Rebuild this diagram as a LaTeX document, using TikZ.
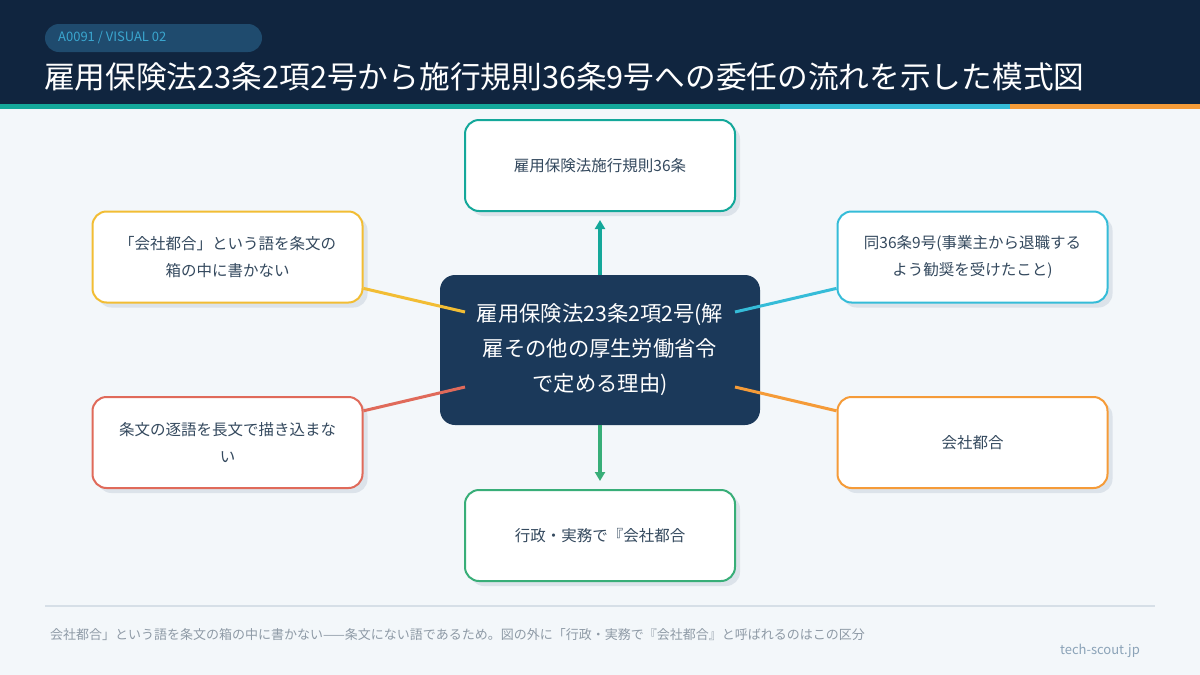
\documentclass[tikz,border=0pt]{standalone}
\usepackage{fontspec}
\setmainfont{Noto Sans CJK JP}
\usetikzlibrary{arrows.meta,shadows}
\definecolor{hdr}{HTML}{10253F}
\definecolor{bgc}{HTML}{F3F7FA}
\definecolor{pillc}{HTML}{1F4B6E}
\definecolor{pilltxt}{HTML}{3AA6CF}
\definecolor{tealc}{HTML}{14A89A}
\definecolor{cyanc}{HTML}{35BCD8}
\definecolor{orangec}{HTML}{F59B38}
\definecolor{yellowc}{HTML}{F2BD34}
\definecolor{redc}{HTML}{E06A5A}
\definecolor{greenc}{HTML}{38AE78}
\definecolor{ctrc}{HTML}{1B395A}
\definecolor{txtc}{HTML}{34495E}
\definecolor{shadc}{HTML}{DCE3EA}
\definecolor{foottxt}{HTML}{8E9AA6}
\definecolor{sepc}{HTML}{D6DFE7}
\definecolor{techc}{HTML}{8BA3B8}
\begin{document}
\begin{tikzpicture}[x=1pt,y=-1pt,
  card/.style={draw=#1, line width=2pt, fill=white, rounded corners=14pt,
    minimum width=270pt, minimum height=91pt, align=center, text=txtc,
    font=\fontsize{15.5}{27}\selectfont,
    drop shadow={shadow xshift=5pt, shadow yshift=-5pt, fill=shadc, opacity=1}},
  ctrbox/.style={fill=ctrc, rounded corners=15pt, minimum width=320pt,
    minimum height=150pt, align=center, text=white,
    font=\fontsize{21.3}{35}\selectfont},
  link/.style={draw=#1, line width=3pt},
  arr/.style={draw=#1, line width=3.5pt, -{Triangle[length=9pt,width=10pt]}}
]
\useasboundingbox (0,0) rectangle (1200,675);
\fill[bgc] (0,0) rectangle (1200,675);
% header
\fill[hdr] (0,0) rectangle (1200,104);
\fill[tealc] (0,104) rectangle (780,109);
\fill[cyanc] (780,104) rectangle (1010,109);
\fill[orangec] (1010,104) rectangle (1200,109);
\fill[pillc, rounded corners=14pt] (45,24) rectangle (262,52);
\node[anchor=west, inner sep=0pt, text=pilltxt, font=\fontsize{13}{13}\selectfont] (pilltext) at (58,38) {A0091 / VISUAL 02};
\node[anchor=west, inner sep=0pt, text=white, font=\fontsize{30.7}{30.7}\selectfont] (title) at (44,77) {雇用保険法23条2項2号から施行規則36条9号への委任の流れを示した模式図};
% center
\node[ctrbox] (ctr) at (600,350) {雇用保険法23条2項2号(解\\雇その他の厚生労働省令\\で定める理由)};
\coordinate (pl1) at (465,312);
\coordinate (pl2) at (465,387);
\coordinate (pr1) at (735,312);
\coordinate (pr2) at (735,387);
% cards
\node[card=tealc] (top) at (600,165.5) {雇用保険法施行規則36条};
\node[card=yellowc] (lt) at (227.5,257) {「会社都合」という語を条文の\\箱の中に書かない};
\node[card=redc] (lb) at (227.5,442.5) {条文の逐語を長文で描き込まな\\い};
\node[card=cyanc] (rt) at (972.5,257) {同36条9号(事業主から退職する\\よう勧奨を受けたこと)};
\node[card=orangec] (rb) at (972.5,442.5) {会社都合};
\node[card=greenc] (bot) at (600,535.5) {行政・実務で『会社都合};
% connectors
\coordinate (topend) at (600,220);
\coordinate (botend) at (600,481);
\draw[arr=tealc] (ctr.north) -- (topend);
\draw[arr=greenc] (ctr.south) -- (botend);
\draw[link=yellowc] (lt) -- (pl1);
\draw[link=redc] (lb) -- (pl2);
\draw[link=cyanc] (rt) -- (pr1);
\draw[link=orangec] (rb) -- (pr2);
% footer
\draw[sepc, line width=2pt] (45,606) -- (1155,606);
\node[anchor=west, inner sep=0pt, text=foottxt, font=\fontsize{13}{13}\selectfont] (foot) at (50,635) {会社都合」という語を条文の箱の中に書かない——条文にない語であるため。図の外に「行政・実務で『会社都合』と呼ばれるのはこの区分};
\node[anchor=east, inner sep=0pt, text=techc, font=\fontsize{13}{13}\selectfont] (tech) at (1140,651) {tech-scout.jp};
\end{tikzpicture}
\end{document}
